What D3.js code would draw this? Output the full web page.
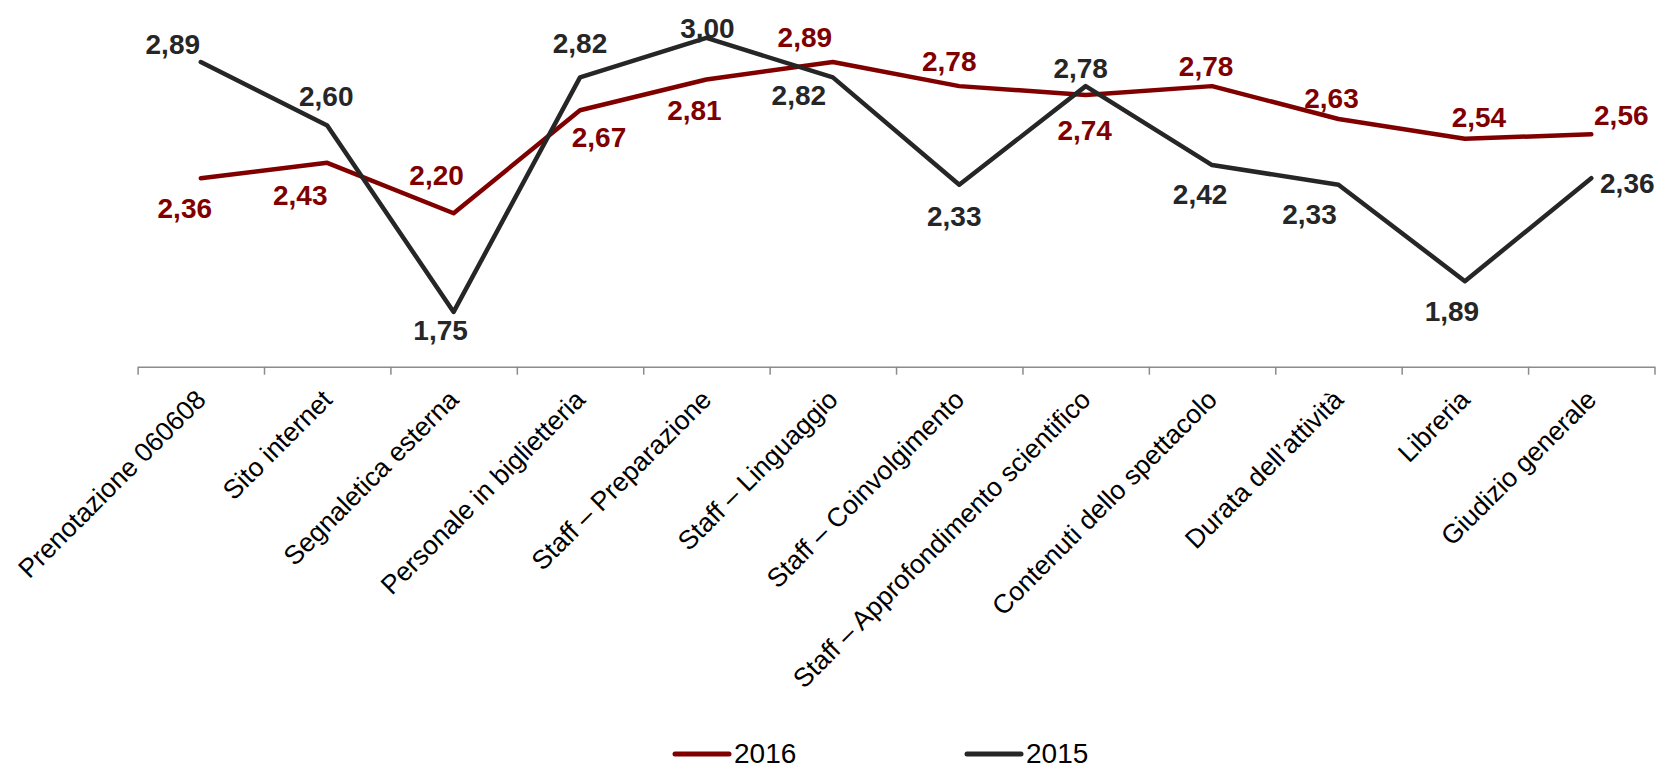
<!DOCTYPE html>
<html>
<head>
<meta charset="utf-8">
<title>Giudizi 2015 - 2016</title>
<script src="https://d3js.org/d3.v7.min.js"></script>
<style>
  body { margin: 0; background: #fff; }
  svg { display: block; font-family: "Liberation Sans", Arial, sans-serif; }
</style>
</head>
<body>
<div id="chart"></div>
<script>
// categories and values
var categories = [
  "Prenotazione 060608",
  "Sito internet",
  "Segnaletica esterna",
  "Personale in biglietteria",
  "Staff \u2013 Preparazione",
  "Staff \u2013 Linguaggio",
  "Staff \u2013 Coinvolgimento",
  "Staff \u2013 Approfondimento scientifico",
  "Contenuti dello spettacolo",
  "Durata dell\u2019attivit\u00e0",
  "Libreria",
  "Giudizio generale"
];
var values2016 = [2.36, 2.43, 2.20, 2.67, 2.81, 2.89, 2.78, 2.74, 2.78, 2.63, 2.54, 2.56];
var values2015 = [2.89, 2.60, 1.75, 2.82, 3.00, 2.82, 2.33, 2.78, 2.42, 2.33, 1.89, 2.36];
var seriesNames = ["2016", "2015"];

// label nudges (dx to text centre, dy to baseline), like the hand-placed labels of the original
var labelShift2016 = [[-16, 40], [-27, 42], [-17, -28], [19, 37], [-12, 40], [-28, -15],
                      [-10, -15], [-1, 45], [-6, -10], [-7, -11], [14, -12], [30, -9]];
var labelShift2015 = [[-28, -8], [-1, -20], [-13, 28], [0, -24], [1, 0], [-34, 28],
                      [-5, 41], [-5, -8], [-12, 39], [-29, 39], [-13, 40], [36, 15]];

var width = 1659,
    height = 768;

var red = "#800000",
    dark = "#262626";

var svg = d3.select("#chart")
  .append("svg")
    .attr("width", width)
    .attr("height", height);

// x: one band per category, ticks sit on the band edges
var x = d3.scaleBand()
  .domain(categories)
  .range([137.6, 1654.5])
  .padding(0);

var xEdge = d3.scaleLinear()
  .domain([0, categories.length])
  .range(x.range());

var y = d3.scaleLinear()
  .domain([1.5, 3.0])
  .range([366.7, 37.9]);

var axisY = y(1.5);

// bottom axis
var axis = svg.append("g")
  .attr("transform", "translate(0," + axisY + ")")
  .call(d3.axisBottom(xEdge)
    .tickValues(d3.range(categories.length + 1))
    .tickSize(8)
    .tickSizeOuter(0)
    .tickFormat(""));
axis.select(".domain").attr("stroke", "#8c8c8c").attr("stroke-width", 1.5);
axis.selectAll(".tick line").attr("stroke", "#8c8c8c").attr("stroke-width", 1.5);

// rotated category labels
svg.selectAll(".cat")
  .data(categories)
  .enter()
  .append("text")
    .attr("class", "cat")
    .attr("transform", function(d) {
      return "translate(" + (x(d) + x.bandwidth() / 2) + "," + (axisY + 28) + ") rotate(-45)";
    })
    .attr("text-anchor", "end")
    .attr("dy", "0.35em")
    .style("font-size", "26.5px")
    .style("fill", "#000")
    .text(function(d) { return d; });

var line = d3.line()
  .x(function(d, i) { return x(categories[i]) + x.bandwidth() / 2; })
  .y(function(d) { return y(d); });

var series = [
  { name: seriesNames[0], values: values2016, color: red, shift: labelShift2016 },
  { name: seriesNames[1], values: values2015, color: dark, shift: labelShift2015 }
];

// draw 2016 first, 2015 on top
series.forEach(function(s) {
  svg.append("path")
    .datum(s.values)
    .attr("d", line)
    .attr("fill", "none")
    .attr("stroke", s.color)
    .attr("stroke-width", 4.5)
    .attr("stroke-linejoin", "round")
    .attr("stroke-linecap", "round");
});

// value labels
series.forEach(function(s) {
  svg.selectAll(null)
    .data(s.values)
    .enter()
    .append("text")
      .attr("x", function(d, i) { return x(categories[i]) + x.bandwidth() / 2 + s.shift[i][0]; })
      .attr("y", function(d, i) { return y(d) + s.shift[i][1]; })
      .attr("text-anchor", "middle")
      .style("font-size", "28px")
      .style("font-weight", "bold")
      .style("fill", s.color)
      .text(function(d) { return d3.format(".2f")(d).replace(".", ","); });
});

// legend
var legendX = [675, 967];
var legend = svg.selectAll(".legend")
  .data(series)
  .enter()
  .append("g")
    .attr("class", "legend")
    .attr("transform", function(d, i) { return "translate(" + legendX[i] + ",754)"; });

legend.append("line")
  .attr("x1", 0)
  .attr("x2", 54)
  .attr("stroke", function(d) { return d.color; })
  .attr("stroke-width", 5)
  .attr("stroke-linecap", "round");

legend.append("text")
  .attr("x", 59)
  .attr("y", 9)
  .style("font-size", "28px")
  .style("fill", "#000")
  .text(function(d) { return d.name; });
</script>
</body>
</html>
